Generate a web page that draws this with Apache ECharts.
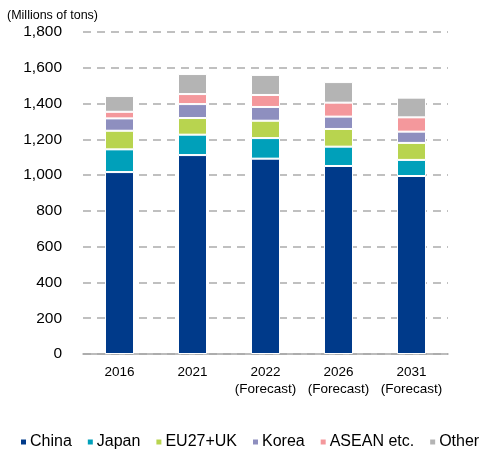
<!DOCTYPE html>
<html><head><meta charset="utf-8">
<script src="https://cdn.jsdelivr.net/npm/echarts@6/dist/echarts.min.js"></script>
<style>html,body{margin:0;padding:0;background:#fff}#c{width:479px;height:453px}</style>
</head><body><div id="c"></div>
<script>
const categories = ['2016', '2021', '2022\n(Forecast)', '2026\n(Forecast)', '2031\n(Forecast)'];
const china = [1017, 1112, 1092, 1051, 995];
const japan = [127, 114, 115, 108, 90];
const eu = [104, 93, 97, 99, 95];
const korea = [69, 78, 77, 69, 63];
const asean = [37, 56, 67, 78, 80];
const other = [88, 112, 112, 115, 110];
const seriesNames = ['China', 'Japan', 'EU27+UK', 'Korea', 'ASEAN etc.', 'Other'];
const yTicks = [0, 200, 400, 600, 800, 1000, 1200, 1400, 1600, 1800];

const colors = ['#003a8a', '#00a0ba', '#b8d44f', '#8e8fbf', '#f4989c', '#b4b4b4'];
const dataSets = [china, japan, eu, korea, asean, other];
const font = 'Liberation Sans, Arial, sans-serif';
const chart = echarts.init(document.getElementById('c'));
chart.setOption({
  animation: false,
  textStyle: {fontFamily: font},
  grid: {left: 83, right: 31, top: 32, bottom: 99, containLabel: false},
  legend: {
    top: 434, left: 19, width: 470, padding: 0, itemWidth: 7, itemHeight: 7, itemGap: 14,
    icon: 'rect',
    textStyle: {fontSize: 16, color: '#000', fontFamily: font, padding: [0, 0, 0, -2]},
    data: seriesNames
  },
  xAxis: {
    type: 'category', data: categories,
    axisLine: {lineStyle: {color: '#a6a6a6', width: 1.5}},
    axisTick: {show: false},
    axisLabel: {color: '#000', fontSize: 13.5, lineHeight: 17, margin: 10, fontFamily: font, interval: 0},
  },
  yAxis: {
    type: 'value', min: 0, max: 1800, interval: 200,
    name: '(Millions of tons)', nameLocation: 'end', nameGap: 10,
    nameTextStyle: {color: '#000', fontSize: 12.5, align: 'left', padding: [0, 0, 0, -76], fontFamily: font},
    axisLine: {show: false}, axisTick: {show: false},
    axisLabel: {color: '#000', fontSize: 15.5, margin: 21, fontFamily: font,
      formatter: v => v.toLocaleString('en-US')},
    splitLine: {lineStyle: {color: '#c0c0c0', width: 2, type: [8, 6]}}
  },
  series: dataSets.map((d, i) => ({
    name: seriesNames[i], type: 'bar', stack: 'total', data: d, barWidth: 29,
    itemStyle: {color: colors[i], borderColor: '#fff', borderWidth: 1}
  }))
});
</script></body></html>
